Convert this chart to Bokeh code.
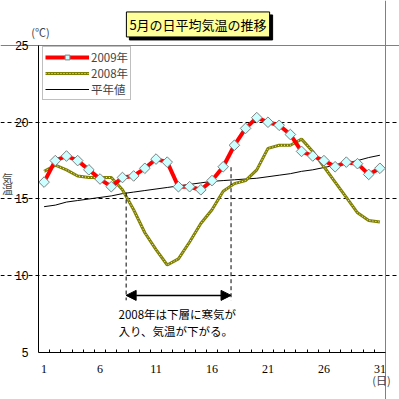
import math
from bokeh.plotting import figure
from bokeh.models import (Range1d, FixedTicker, Label, Legend, LegendItem,
                          Arrow, NormalHead, Grid)
from bokeh.embed import file_html
from bokeh.resources import INLINE

# ---- data ----
days = list(range(1, 32))
t2009 = [16.1, 17.5, 17.8, 17.5, 16.9, 16.3, 15.8, 16.4, 16.5, 17.0,
         17.6, 17.4, 15.8, 15.8, 15.6, 16.2, 17.1, 18.5, 19.6, 20.3,
         20.0, 19.8, 19.2, 18.1, 17.8, 17.5, 17.1, 17.4, 17.3, 16.6, 17.0]
t2008 = [16.8, 17.2, 16.9, 16.5, 16.4, 16.4, 16.4, 15.6, 14.3, 12.8,
         11.7, 10.7, 11.1, 12.2, 13.4, 14.3, 15.5, 16.0, 16.2, 16.9,
         18.3, 18.5, 18.5, 18.9, 18.1, 17.1, 16.1, 15.1, 14.1, 13.6, 13.5]
normal = [14.5, 14.6, 14.8, 14.9, 15.0, 15.1, 15.2, 15.35, 15.45, 15.55,
          15.65, 15.75, 15.85, 15.95, 16.05, 16.15, 16.2, 16.25, 16.3, 16.35,
          16.45, 16.55, 16.65, 16.8, 16.9, 17.05, 17.2, 17.35, 17.5, 17.7, 17.85]
series_labels = ["2009年", "2008年", "平年値"]
x_ticks = [1, 6, 11, 16, 21, 26, 31]
y_ticks = [5, 10, 15, 20, 25]
grid_values = [10, 15, 20]
title_text = "5月の日平均気温の推移"
note_lines = ["2008年は下層に寒気が", "入り、気温が下がる。"]

# plot-area extents (data units)
X_MIN, X_MAX = 0.5, 31.5
Y_MIN, Y_MAX = 5, 25

# bracket annotation positions (data units)
bracket_x = [8.33, 17.7]
bracket_top = [15.42, 17.07]
bracket_bottom = 8.4
arrow_y = 8.72

JP = "Noto Sans CJK JP"

# the frame covers the whole canvas; axes are pinned to the plot area
p = figure(width=399, height=399, output_backend="svg", toolbar_location=None,
           x_range=Range1d(-2.895, 32.75), y_range=Range1d(1.938, 27.93),
           min_border=0, background_fill_color="white",
           border_fill_color="white")
p.outline_line_color = None

xa = p.xaxis[0]
xa.fixed_location = Y_MIN
xa.bounds = (X_MIN, X_MAX)
xa.ticker = FixedTicker(ticks=x_ticks, minor_ticks=[d + 0.5 for d in days[:-1]])
xa.axis_line_color = "black"
xa.major_tick_line_color = None
xa.minor_tick_in = 3
xa.minor_tick_out = 0
xa.minor_tick_line_color = "black"
xa.major_label_standoff = 7
xa.major_label_text_font = "Liberation Serif"
xa.major_label_text_font_size = "12px"
xa.major_label_text_color = "black"

ya = p.yaxis[0]
ya.fixed_location = X_MIN
ya.bounds = (Y_MIN, Y_MAX)
ya.ticker = FixedTicker(ticks=y_ticks)
ya.axis_line_color = "black"
ya.major_tick_in = 0
ya.major_tick_out = 0
ya.minor_tick_line_color = None
ya.major_label_standoff = 10
ya.major_label_text_font = "Liberation Sans"
ya.major_label_text_font_size = "12px"
ya.major_label_text_color = "black"

p.xgrid.grid_line_color = None
p.ygrid.ticker = FixedTicker(ticks=grid_values)
p.ygrid.bounds = (X_MIN, X_MAX)
p.ygrid.grid_line_color = "black"
p.ygrid.grid_line_dash = "4 3"
p.ygrid.grid_line_width = 1

# gray top / right border of the plot area
p.add_layout(Grid(dimension=1, ticker=FixedTicker(ticks=[Y_MAX]), bounds=(X_MIN, X_MAX),
                  grid_line_color="#808080", grid_line_width=1))
p.add_layout(Grid(dimension=0, ticker=FixedTicker(ticks=[X_MAX]), bounds=(Y_MIN, Y_MAX),
                  grid_line_color="#808080", grid_line_width=1))

# series
r_norm = p.line(days, normal, line_color="black", line_width=1)
r08a = p.line(days, t2008, line_color="#808000", line_width=3)
r08b = p.line(days, t2008, line_color="#F4F4E0", line_width=1, line_dash="1 2")
r09l = p.line(days, t2009, line_color="#FF0000", line_width=4)
r09m = p.scatter(days, t2009, marker="square", angle=math.pi / 4, size=7.5,
                 fill_color="#CCFFFF", line_color="#808080", line_width=1)

# bracket annotation
p.segment(x0=bracket_x, y0=bracket_top, x1=bracket_x,
          y1=[bracket_bottom] * len(bracket_x),
          line_color="black", line_width=1, line_dash="4 3")
p.add_layout(Arrow(start=NormalHead(size=10, fill_color="black", line_color="black"),
                   end=NormalHead(size=10, fill_color="black", line_color="black"),
                   x_start=bracket_x[0], y_start=arrow_y,
                   x_end=bracket_x[1], y_end=arrow_y,
                   line_color="black", line_width=1.5))
for i, txt in enumerate(note_lines):
    p.add_layout(Label(x=7.65, y=7.54 - i * 1.12, text=txt, text_font=JP,
                       text_font_size="11.5px", text_align="left",
                       text_baseline="middle", text_color="black"))

# legend (location = bottom-left corner, screen px from the canvas bottom-left)
legend = Legend(items=[
    LegendItem(label=series_labels[0], renderers=[r09l, r09m]),
    LegendItem(label=series_labels[1], renderers=[r08a, r08b]),
    LegendItem(label=series_labels[2], renderers=[r_norm]),
], location=(42, 299))
legend.margin = 0
legend.padding = 2
legend.spacing = 0
legend.glyph_width = 44
legend.glyph_height = 12
legend.label_height = 12
legend.label_standoff = 2
legend.label_text_font = JP
legend.label_text_font_size = "11.5px"
legend.label_text_line_height = 0.85
legend.label_text_baseline = "middle"
legend.border_line_color = "#808080"
legend.border_line_width = 1.5
legend.background_fill_color = "white"
legend.background_fill_alpha = 1
p.add_layout(legend)

# title with shadow
for dx, dy, bg in [(3, -3, "black"), (0, 0, "#FFFF99")]:
    p.add_layout(Label(x=14.75, y=26.37, x_offset=dx, y_offset=dy, text=title_text,
                       text_font=JP, text_font_size="13px", text_align="center",
                       text_baseline="middle", text_color="black",
                       background_fill_color=bg, border_line_color="black",
                       border_line_width=1, padding=3))

# unit labels
p.add_layout(Label(x=0.68, y=25.91, text="(℃)", text_font=JP, text_font_size="11px",
                   text_align="center", text_baseline="middle"))
p.add_layout(Label(x=31.14, y=3.24, text="(日)", text_font=JP, text_font_size="11px",
                   text_align="center", text_baseline="middle"))
for i, ch in enumerate("気温"):
    p.add_layout(Label(x=-2.27, y=16.34 - i * 0.72, text=ch, text_font=JP,
                       text_font_size="11px", text_align="center",
                       text_baseline="middle"))

open("out.html", "w").write(file_html(p, INLINE))
